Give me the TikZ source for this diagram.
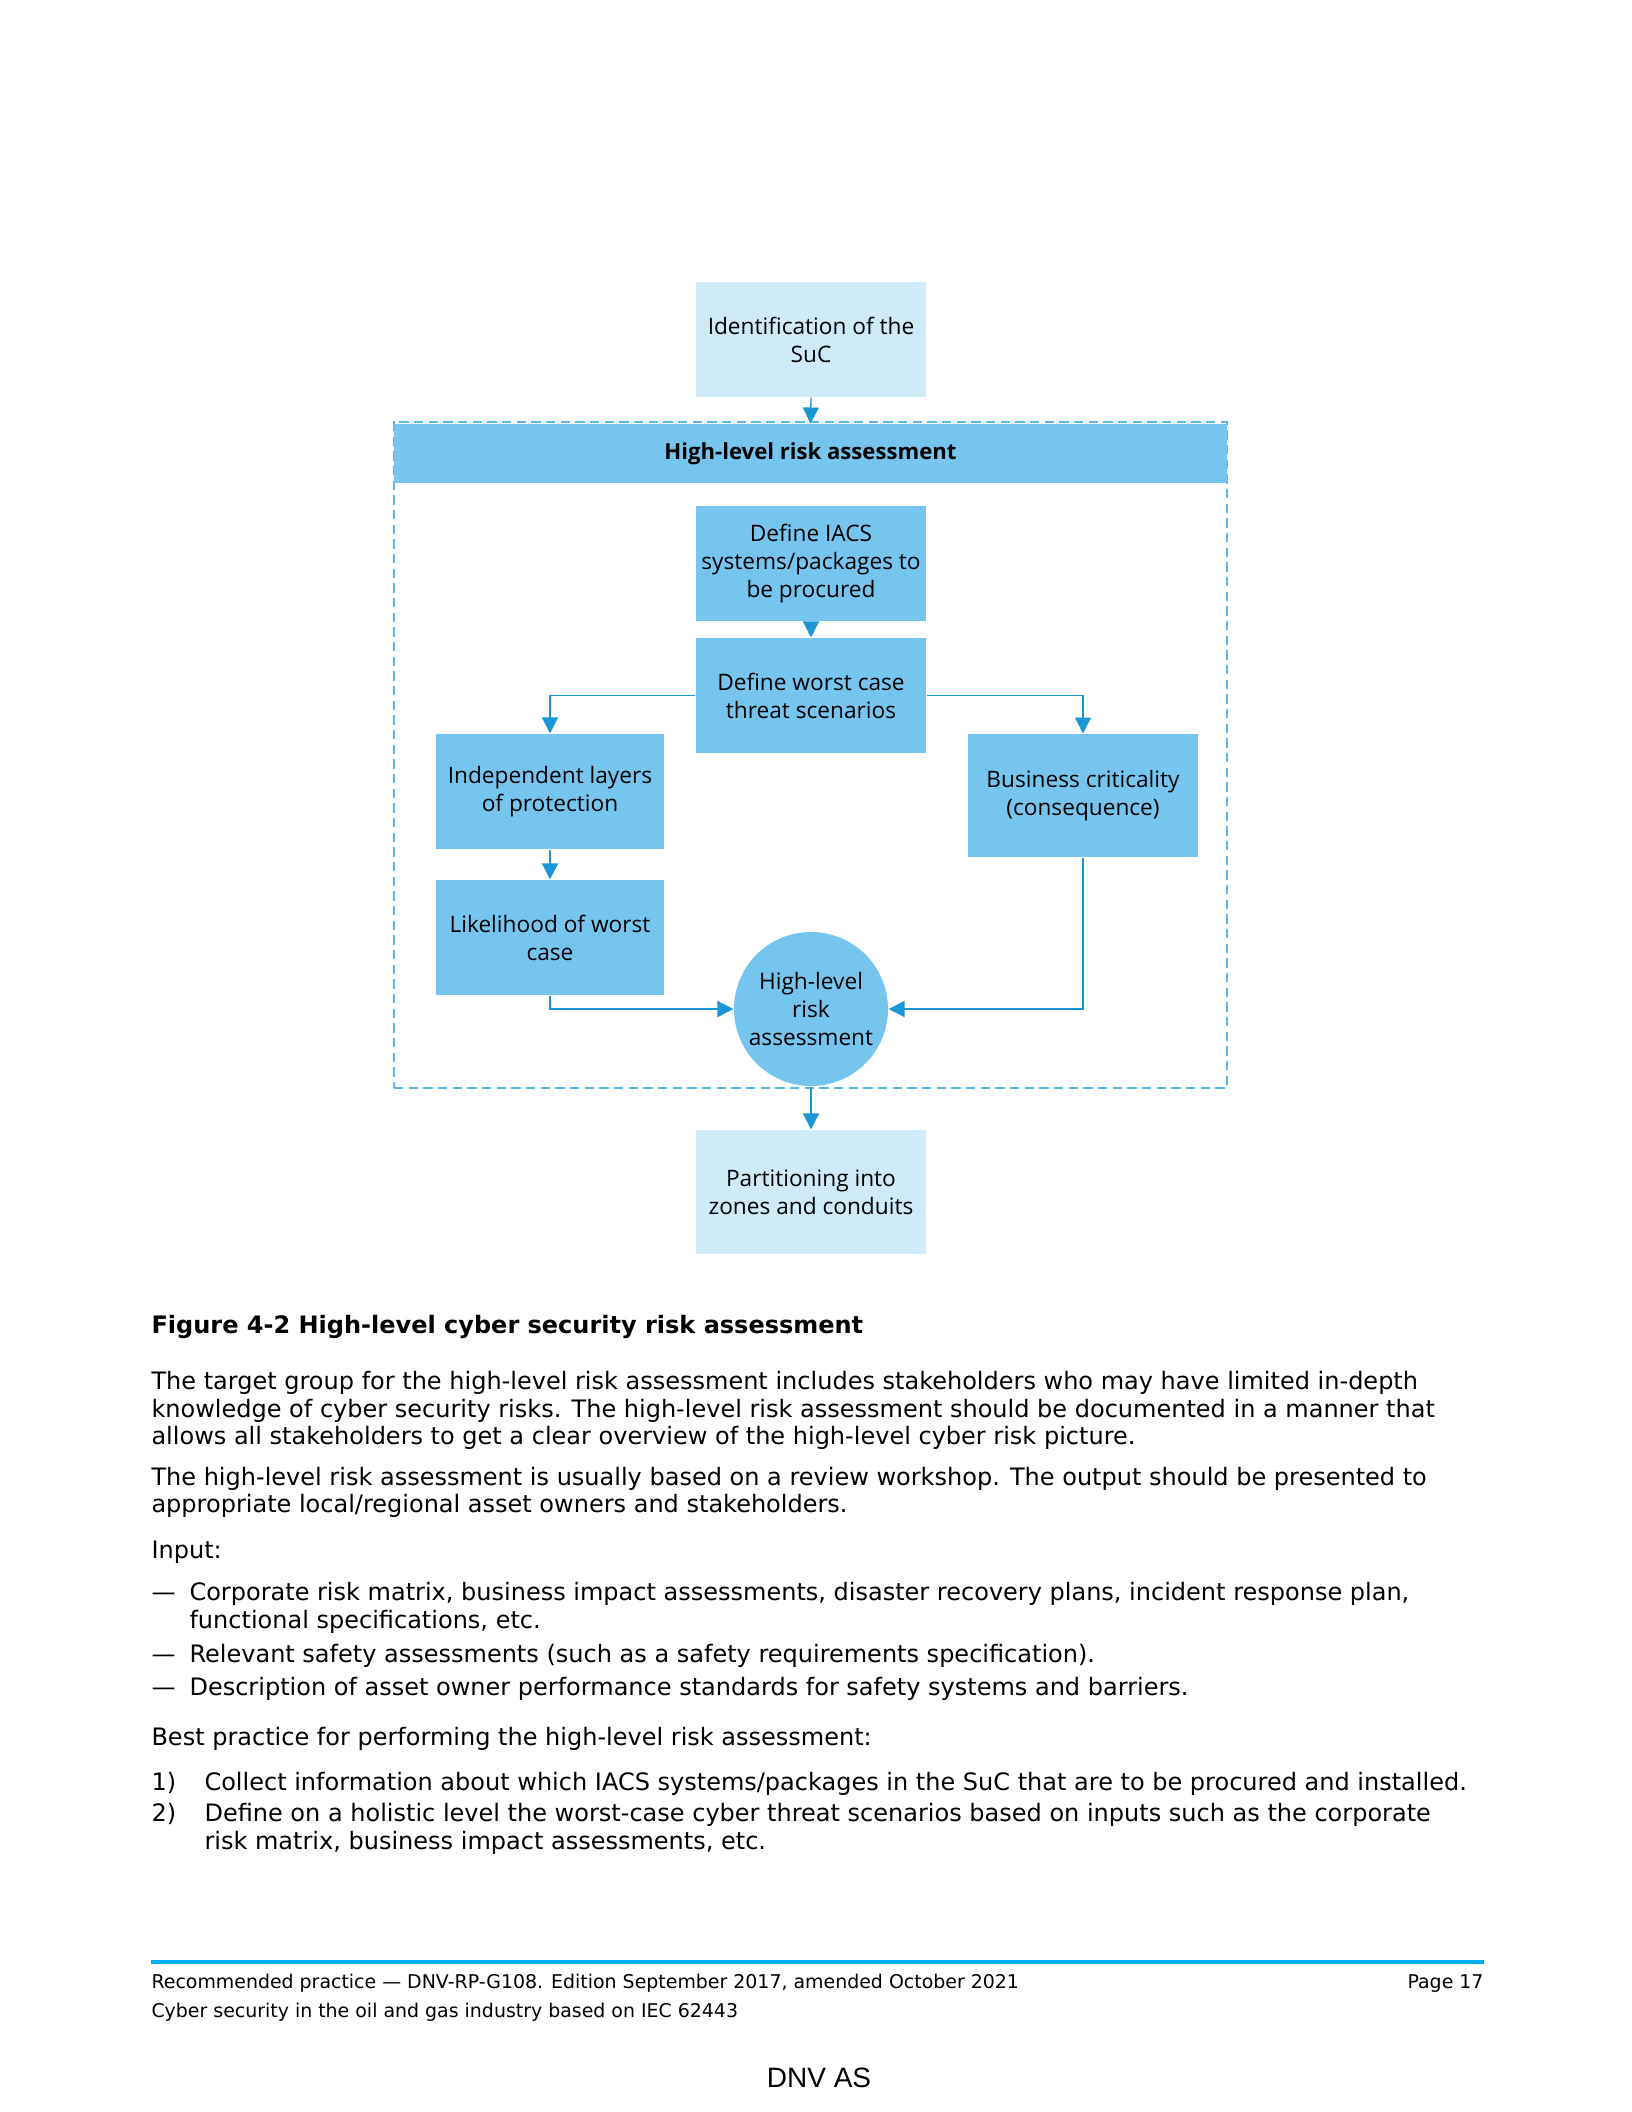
\documentclass[tikz,border=0pt]{standalone}
\usepackage{fontspec}
\setmainfont{DejaVu Sans}
\newfontfamily\diafont{Open Sans}
\newfontfamily\dnvfont{Liberation Sans}
\usetikzlibrary{arrows.meta}
\definecolor{boxblue}{RGB}{117,197,238}
\definecolor{paleblue}{RGB}{208,235,248}
\definecolor{arrowblue}{RGB}{27,150,212}
\definecolor{framedash}{RGB}{90,184,230}
\definecolor{footline}{RGB}{0,176,240}
\begin{document}
\begin{tikzpicture}[x=0.375pt,y=-0.375pt,
  box/.style={fill=boxblue, draw=none, minimum width=86.25pt, minimum height=43.125pt,
    align=center, inner sep=0pt, font=\diafont\fontsize{8.5}{10.5}\selectfont},
  pale/.style={box, fill=paleblue},
  conn/.style={draw=arrowblue, line width=0.5pt, -{Triangle[length=6pt,width=6pt]}},
  body/.style={anchor=base west, inner sep=0pt, font=\fontsize{9}{10.3}\selectfont},
  foot/.style={anchor=base west, inner sep=0pt, font=\fontsize{7.1}{8}\selectfont},
]
\useasboundingbox (0,0) rectangle (1632,2112);
% frame and header
\node[draw=framedash, line width=0.55pt, dash pattern=on 3.5pt off 2pt,
      minimum width=312.4pt, minimum height=249.75pt, inner sep=0pt] (frame) at (810.5,755) {};
\node[fill=boxblue, minimum width=312.4pt, minimum height=22.1pt, inner sep=0pt,
      font=\diafont\bfseries\fontsize{8.3}{10}\selectfont] (header) at (810.5,453.5) {High-level risk assessment};
% boxes
\node[pale] (ident) at (811,339.5) {Identification of the\\SuC};
\node[box] (iacs) at (811,563.5) {Define IACS\\systems/packages to\\be procured};
\node[box] (worst) at (811,695.5) {Define worst case\\threat scenarios};
\node[box, minimum width=85.5pt] (indep) at (550,791.5) {Independent layers\\of protection};
\node[box, minimum width=85.5pt] (likeli) at (550,937.5) {Likelihood of worst\\case};
\node[box, minimum height=46.1pt] (busin) at (1083,795.5) {Business criticality\\(consequence)};
\node[box, circle, minimum size=57.75pt] (circ) at (811,1009) {High-level\\risk\\assessment};
\node[pale, minimum height=46.5pt] (part) at (811,1192) {Partitioning into\\zones and conduits};
% connectors
\draw[conn] (ident.south) -- (header.north);
\draw[conn] (iacs.south) -- (worst.north);
\draw[conn] (worst.west) -| (indep.north);
\draw[conn] (worst.east) -| (busin.north);
\draw[conn] (indep.south) -- (likeli.north);
\draw[conn] (likeli.south) |- (circ.west);
\draw[conn] (busin.south) |- (circ.east);
\draw[conn] (circ.south) -- (part.north);
% caption and body text
\node[body, font=\bfseries\fontsize{9}{10.3}\selectfont] (cap) at (151,1333) {Figure 4-2 High-level cyber security risk assessment};
\node[body] (p1a) at (151,1389) {The target group for the high-level risk assessment includes stakeholders who may have limited in-depth};
\node[body] (p1b) at (151,1417) {knowledge of cyber security risks. The high-level risk assessment should be documented in a manner that};
\node[body] (p1c) at (151,1444) {allows all stakeholders to get a clear overview of the high-level cyber risk picture.};
\node[body] (p2a) at (151,1485) {The high-level risk assessment is usually based on a review workshop. The output should be presented to};
\node[body] (p2b) at (151,1512) {appropriate local/regional asset owners and stakeholders.};
\node[body] (inp) at (151,1558) {Input:};
\node[body] (d1) at (151,1600) {—};
\node[body] (b1a) at (189,1600) {Corporate risk matrix, business impact assessments, disaster recovery plans, incident response plan,};
\node[body] (b1b) at (189,1628) {functional specifications, etc.};
\node[body] (d2) at (151,1662) {—};
\node[body] (b2) at (189,1662) {Relevant safety assessments (such as a safety requirements specification).};
\node[body] (d3) at (151,1695) {—};
\node[body] (b3) at (189,1695) {Description of asset owner performance standards for safety systems and barriers.};
\node[body] (bp) at (151,1745) {Best practice for performing the high-level risk assessment:};
\node[body] (n1) at (151,1790) {1)};
\node[body] (s1) at (204,1790) {Collect information about which IACS systems/packages in the SuC that are to be procured and installed.};
\node[body] (n2) at (151,1821) {2)};
\node[body] (s2a) at (204,1821) {Define on a holistic level the worst-case cyber threat scenarios based on inputs such as the corporate};
\node[body] (s2b) at (204,1849) {risk matrix, business impact assessments, etc.};
% footer
\coordinate (fl) at (151,1962);
\coordinate (fr) at (1484,1962);
\draw[footline, line width=1.5pt] (fl) -- (fr);
\node[foot] (f1) at (151,1988) {Recommended practice — DNV-RP-G108. Edition September 2017, amended October 2021};
\node[foot, anchor=base east] (pg) at (1484,1988) {Page 17};
\node[foot] (f2) at (151,2017) {Cyber security in the oil and gas industry based on IEC 62443};
\node[anchor=base, inner sep=0pt, font=\dnvfont\fontsize{10.5}{12}\selectfont] (dnv) at (819,2087) {DNV AS};
\end{tikzpicture}
\end{document}
